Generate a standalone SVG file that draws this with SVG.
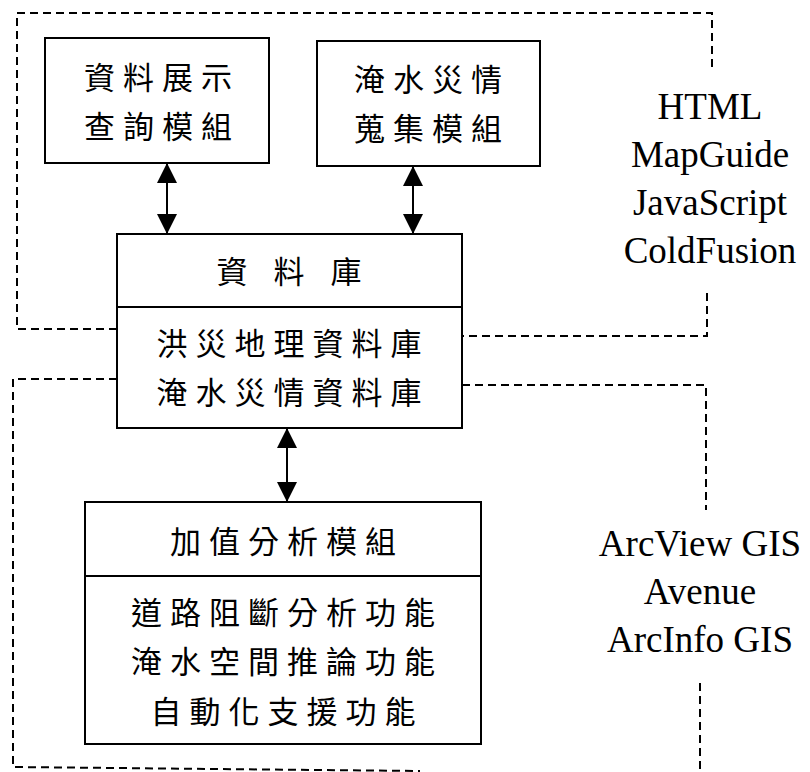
<svg xmlns="http://www.w3.org/2000/svg" width="810" height="772" viewBox="0 0 810 772">
<defs>
<marker id="ah" viewBox="0 0 20 20" refX="20" refY="10" markerWidth="20" markerHeight="20" markerUnits="userSpaceOnUse" orient="auto-start-reverse">
<path d="M0,0 L20,10 L0,20 Z" fill="#000"/>
</marker>
<style>
.box{fill:#fff;stroke:#000;stroke-width:2}
.div{stroke:#000;stroke-width:2}
.dash{fill:none;stroke:#000;stroke-width:2;stroke-dasharray:8 5}
.arr{stroke:#000;stroke-width:2;marker-start:url(#ah);marker-end:url(#ah)}
.zh{font-family:"Noto Sans CJK TC","Noto Sans CJK SC",sans-serif;font-size:31px;letter-spacing:8px;text-anchor:middle;fill:#000}
.en{font-family:"Liberation Serif","Times New Roman",serif;font-size:37px;text-anchor:middle;fill:#000}
</style>
</defs>
<rect width="810" height="772" fill="#fff"/>
<g id="boundaries">
<path class="dash" d="M117,329 H17 V13 H712 V70"/>
<path class="dash" d="M707,293 V336 H462"/>
<path class="dash" d="M117,379 H13 V767 L420,771"/>
<path class="dash" d="M462,385 H706 V510"/>
<path class="dash" d="M700,683 V772"/>
</g>
<g id="connectors">
<line class="arr" x1="167" y1="163" x2="167" y2="234"/>
<line class="arr" x1="413" y1="166" x2="413" y2="234"/>
<line class="arr" x1="287" y1="428" x2="287" y2="502"/>
</g>
<g id="display-module">
<rect class="box" x="45" y="38" width="224" height="125"/>
<text class="zh" x="162" y="89">資料展示</text>
<text class="zh" x="162" y="138">查詢模組</text>
</g>
<g id="collect-module">
<rect class="box" x="317" y="41" width="223" height="125"/>
<text class="zh" x="432" y="91">淹水災情</text>
<text class="zh" x="432" y="140">蒐集模組</text>
</g>
<g id="database">
<rect class="box" x="117" y="234" width="345" height="194"/>
<line class="div" x1="117" y1="307" x2="462" y2="307"/>
<text class="zh" x="293" y="283" xml:space="preserve" style="word-spacing:3px">資 料 庫</text>
<text class="zh" x="293" y="355">洪災地理資料庫</text>
<text class="zh" x="293" y="404">淹水災情資料庫</text>
</g>
<g id="analysis-module">
<rect class="box" x="85" y="502" width="396" height="242"/>
<line class="div" x1="85" y1="576" x2="481" y2="576"/>
<text class="zh" x="287" y="553">加值分析模組</text>
<text class="zh" x="287" y="624">道路阻斷分析功能</text>
<text class="zh" x="287" y="673">淹水空間推論功能</text>
<text class="zh" x="287" y="723">自動化支援功能</text>
</g>
<g id="web-tools">
<text class="en" x="710" y="119">HTML</text>
<text class="en" x="710" y="167">MapGuide</text>
<text class="en" x="710" y="215">JavaScript</text>
<text class="en" x="710" y="263">ColdFusion</text>
</g>
<g id="gis-tools">
<text class="en" x="700" y="556">ArcView GIS</text>
<text class="en" x="700" y="604">Avenue</text>
<text class="en" x="700" y="652">ArcInfo GIS</text>
</g>
</svg>
